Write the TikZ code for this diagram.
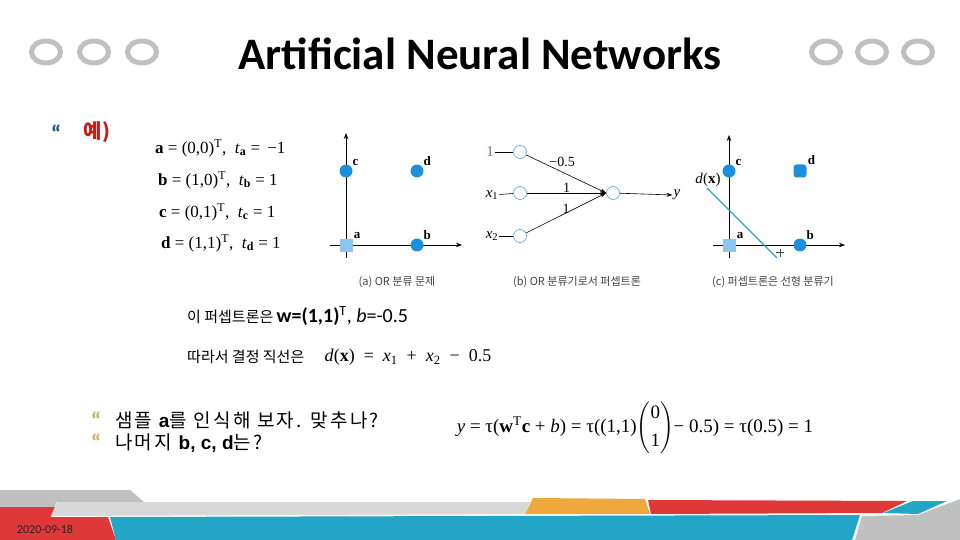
\RequirePackage{fix-cm}
\documentclass[tikz,border=0pt]{standalone}
\usepackage{amsmath}
\usepackage{fontspec}
\setmainfont{Liberation Serif}
\newfontfamily\krfont{Noto Sans CJK KR}
\newfontfamily\krwide{Noto Sans CJK KR}[LetterSpace=12]
\newfontfamily\calfont{Carlito}
\newfontfamily\arfont{Liberation Sans}
\usetikzlibrary{arrows.meta, positioning}

\definecolor{ringgray}{RGB}{192,192,192}
\definecolor{dotblue}{RGB}{28,144,218}
\definecolor{sqblue}{RGB}{140,198,238}
\definecolor{linecyan}{RGB}{48,160,200}
\definecolor{bulletteal}{RGB}{24,94,130}
\definecolor{bullettan}{RGB}{214,180,96}
\definecolor{exred}{RGB}{204,24,24}
\definecolor{footred}{RGB}{222,56,56}
\definecolor{footblue}{RGB}{34,165,198}
\definecolor{footorange}{RGB}{238,168,62}
\definecolor{footgray}{RGB}{192,192,192}
\definecolor{footlight}{RGB}{216,216,216}

\begin{document}
\begin{tikzpicture}[x=1pt, y=-1pt,
    ring/.style={draw=ringgray, line width=5pt},
    dot/.style={circle, fill=dotblue, inner sep=0pt, minimum size=13pt},
    sqdot/.style={rectangle, fill=sqblue, inner sep=0pt, minimum size=13pt},
    rdot/.style={rectangle, rounded corners=3pt, fill=dotblue, inner sep=0pt, minimum size=13pt},
    ptlab/.style={font=\fontsize{13}{13}\selectfont\bfseries, inner sep=1pt},
    axis/.style={line width=0.7pt, -{Stealth[length=6pt, width=4.5pt]}},
    neuron/.style={circle, draw=dotblue!70, fill=white, line width=0.7pt, inner sep=0pt, minimum size=13pt},
    wire/.style={line width=0.6pt, -{Stealth[length=6pt, width=4pt]}},
    inlab/.style={font=\fontsize{15}{15}\selectfont, inner sep=1pt},
    wlab/.style={font=\fontsize{14}{14}\selectfont, inner sep=1pt},
    caption/.style={font=\krfont\fontsize{11}{11}\selectfont, text=black!75},
    eqline/.style={font=\fontsize{17}{19}\selectfont, anchor=west, inner sep=0pt},
    krtext/.style={font=\krfont\fontsize{15}{20}\selectfont, anchor=west, inner sep=0pt},
    qtext/.style={font=\krwide\fontsize{19}{22}\selectfont, anchor=west, inner sep=0pt},
    bull/.style={font=\calfont\bfseries\fontsize{24}{24}\selectfont, inner sep=0pt}
]
\useasboundingbox (0,0) rectangle (960,540);

% title bar
\node[font=\calfont\bfseries\fontsize{45}{54}\selectfont] (title) at (480,54) {Artificial Neural Networks};
\foreach \cx in {46,94,142,826,872,918}
    \draw[ring] (\cx,52) ellipse [x radius=14.5pt, y radius=11pt];

% example heading
\node[bull, text=bulletteal] (b0) at (56,134) {“};
\node[font=\krfont\bfseries\fontsize{20}{20}\selectfont, text=exred] (ex) at (97,132) {예)};

% samples
\node[eqline] (eqa) at (155,148) {\textbf{a} = (0,0)\textsuperscript{T},\ \ \textit{t}\textsubscript{\bfseries a} = \,−1};
\node[eqline] (eqb) at (158,180) {\textbf{b} = (1,0)\textsuperscript{T},\ \ \textit{t}\textsubscript{\bfseries b} = 1};
\node[eqline] (eqc) at (159,212) {\textbf{c} = (0,1)\textsuperscript{T},\ \ \textit{t}\textsubscript{\bfseries c} = 1};
\node[eqline] (eqd) at (161,243) {\textbf{d} = (1,1)\textsuperscript{T},\ \ \textit{t}\textsubscript{\bfseries d} = 1};

% (a) OR problem
\draw[axis] (346,258) -- (346,133);
\draw[axis] (330,245) -- (462,245);
\node[dot, label={[ptlab]35:c}] (pc) at (346,171) {};
\node[dot, label={[ptlab]35:d}] (pd) at (417,171) {};
\node[sqdot, label={[ptlab]35:a}] (pa) at (346,245) {};
\node[dot, label={[ptlab]35:b}] (pb) at (417,245) {};
\node[caption] (capa) at (397,282) {(a) OR 분류 문제};

% (b) perceptron
\node[neuron] (in0) at (520,152) {};
\node[neuron] (in1) at (520,193) {};
\node[neuron] (in2) at (520,236) {};
\node[neuron] (out) at (613,193) {};
\node[inlab, text=black!55] (l0) at (490,152) {1};
\node[inlab] (l1) at (492,195) {\textit{x}\textsubscript{1}};
\node[inlab] (l2) at (492,236) {\textit{x}\textsubscript{2}};
\node[inlab] (ylab) at (677,195) {\textit{y}};
\draw[line width=0.6pt] (l0) -- (in0);
\draw[line width=0.6pt] (l1) -- (in1);
\draw[line width=0.6pt] (l2) -- (in2);
\draw[wire] (in0) -- node[wlab, pos=0.45, above=4pt] {−0.5} (out.west);
\draw[wire] (in1) -- node[wlab, pos=0.5, above=-1pt] {1} (out.west);
\draw[wire] (in2) -- node[wlab, pos=0.5, above=-2pt] {1} (out.west);
\draw[wire] (out) -- (ylab.west);
\node[caption] (capb) at (577,282) {(b) OR 분류기로서 퍼셉트론};

% (c) decision line
\draw[axis] (729,258) -- (729,135);
\draw[axis] (713,245) -- (845,245);
\coordinate (dl1) at (707,188);
\coordinate (dl2) at (777,258);
\draw[linecyan, line width=1.2pt] (dl1) -- (dl2);
\draw[line width=0.5pt, black!70] (780,249) -- (780,257) (776,252) -- (784,252);
\node[dot, label={[ptlab]35:c}] (qc) at (729,171) {};
\node[rdot, label={[ptlab]35:d}] (qd) at (800,171) {};
\node[sqdot, label={[ptlab]35:a}] (qa) at (729,245) {};
\node[dot, label={[ptlab]35:b}] (qb) at (800,245) {};
\node[inlab] (dx) at (708,180) {\textit{d}(\textbf{x})};
\node[caption] (capc) at (773,282) {(c) 퍼셉트론은 선형 분류기};

% perceptron parameters
\node[krtext] (perc) at (187,316) {이 퍼셉트론은 {\calfont\fontsize{20}{20}\selectfont\bfseries w=(1,1)}{\calfont\fontsize{20}{20}\selectfont\textsuperscript{T}, \textit{b}=-0.5}};
\node[krtext] (dec) at (187,357) {따라서 결정 직선은};
\node[eqline, font=\fontsize{18}{20}\selectfont, right=20pt of dec] (decmath)
    {\textit{d}(\textbf{x})\enspace=\enspace\textit{x}\textsubscript{1}\enspace+\enspace\textit{x}\textsubscript{2}\enspace−\enspace0.5};

% questions
\node[bull, text=bullettan] (bl1) at (96,421) {“};
\node[bull, text=bullettan] (bl2) at (96,443) {“};
\node[qtext] (q1) at (115,420) {샘플 {\arfont\bfseries a}를 인식해 보자. 맞추나?};
\node[qtext] (q2) at (115,443) {나머지 {\arfont\bfseries b, c, d}는?};
\node[font=\fontsize{19}{21}\selectfont] (yeq) at (635,428)
    {\textit{y} = τ(\textbf{w}\textsuperscript{T}\textbf{c} + \textit{b}) = τ((1,1)$\begin{pmatrix}\text{0}\\[7pt]\text{1}\end{pmatrix}$− 0.5) = τ(0.5) = 1};

% footer bands
\fill[footgray] (0,490) -- (130,490) -- (144,502) -- (56,502) -- (55,507) -- (0,507) -- cycle;
\fill[footred] (0,507) -- (55,507) -- (51,517) -- (108,517) -- (116,540) -- (0,540) -- cycle;
\fill[footlight] (57,502) -- (530,502) -- (525,514) -- (51,516) -- cycle;
\fill[footorange] (533,498) -- (645,499) -- (650,514) -- (525,514) -- cycle;
\fill[footred] (648,500) -- (907,501) -- (882,513) -- (651,514) -- cycle;
\fill[footblue] (913,501) -- (947,501) -- (918,514) -- (883,513) -- cycle;
\fill[footblue] (110,517) -- (860,515) -- (852,540) -- (116,540) -- cycle;
\fill[footgray] (862,516) -- (918,515) -- (960,499) -- (960,540) -- (855,540) -- cycle;
\node[font=\calfont\fontsize{12}{12}\selectfont, text=black!85] (date) at (45,529) {2020-09-18};
\end{tikzpicture}
\end{document}
